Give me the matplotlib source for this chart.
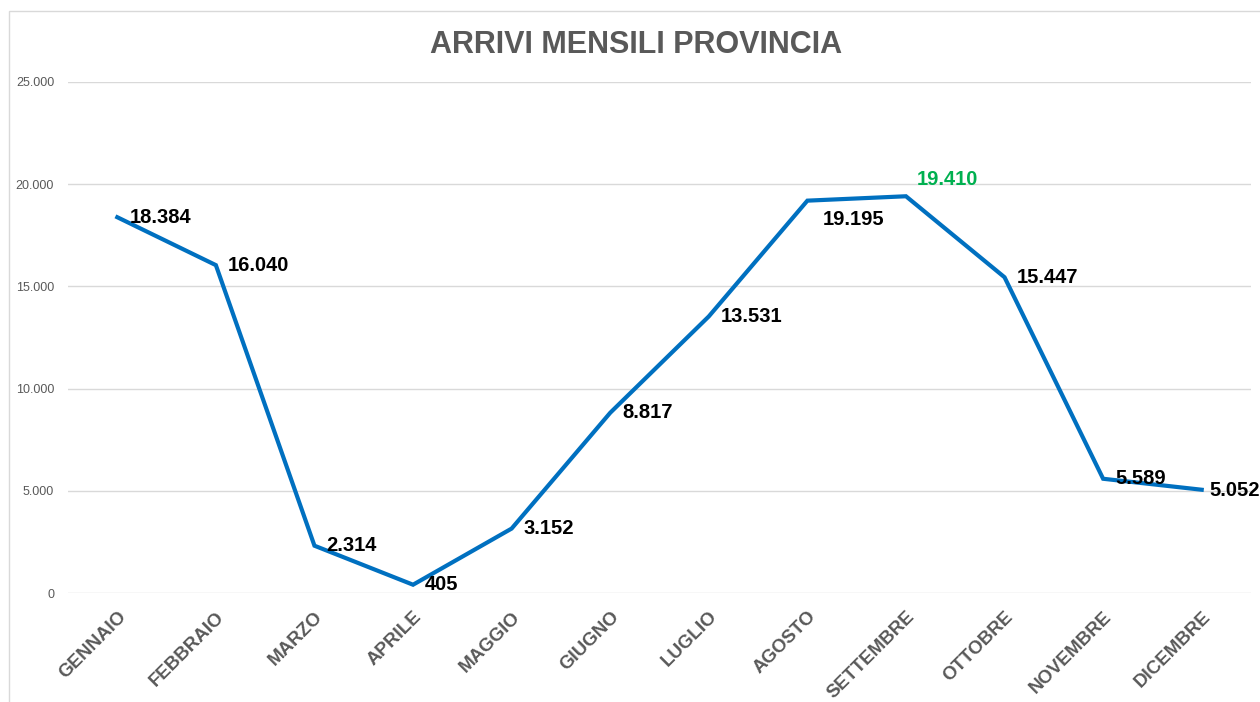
import matplotlib
matplotlib.use("Agg")
import matplotlib.pyplot as plt
from matplotlib import font_manager
from matplotlib.ticker import FuncFormatter, MultipleLocator
from matplotlib.patches import Rectangle

# data
mesi = ["GENNAIO", "FEBBRAIO", "MARZO", "APRILE", "MAGGIO", "GIUGNO",
        "LUGLIO", "AGOSTO", "SETTEMBRE", "OTTOBRE", "NOVEMBRE", "DICEMBRE"]
arrivi = [18384, 16040, 2314, 405, 3152, 8817, 13531, 19195, 19410, 15447, 5589, 5052]

# pick a narrow bold font if there is one
names = set(f.name for f in font_manager.fontManager.ttflist)
if "Liberation Sans Narrow" in names:
    narrow = "Liberation Sans Narrow"
    lab_size, tick_size, title_size = 17, 15, 27
else:
    narrow = "Liberation Sans"
    lab_size, tick_size, title_size = 14.5, 13.5, 22

def ita(v, pos=None):
    return "{:,.0f}".format(v).replace(",", ".")

fig = plt.figure(figsize=(12.6, 7.02), dpi=100)
ax = fig.add_axes([68/1260, (702-593)/702, (1251-68)/1260, (593-82)/702])

x = list(range(len(mesi)))
ax.plot(x, arrivi, color="#0070C0", lw=3, solid_joinstyle="miter", zorder=3)

ax.set_xlim(-0.5, len(mesi) - 0.5)
ax.set_ylim(0, 25000)
ax.yaxis.set_major_locator(MultipleLocator(5000))
ax.yaxis.set_major_formatter(FuncFormatter(ita))
ax.grid(axis="y", color="#D9D9D9", lw=1)
ax.set_axisbelow(True)
for s in ax.spines.values():
    s.set_visible(False)
ax.tick_params(axis="y", length=0, pad=10, labelsize=9, labelcolor="#595959")
ax.tick_params(axis="x", length=0, pad=11)
ax.set_xticks(x)
ax.set_xticklabels(mesi, rotation=45, ha="right", rotation_mode="anchor",
                   family=narrow, fontweight="bold", fontsize=tick_size, color="#595959")
for t in ax.get_yticklabels():
    t.set_family("Liberation Sans")

# data labels
special = {7: (15, -19), 8: (11, 17), 11: (8, -1)}
for i, v in enumerate(arrivi):
    dx, dy = special.get(i, (12, 0))
    col = "#00B050" if v == max(arrivi) else "black"
    ax.annotate(ita(v), (i, v), xytext=(dx, dy), textcoords="offset pixels",
                ha="left", va="center", fontsize=lab_size, fontweight="bold",
                family=narrow, color=col, zorder=4, annotation_clip=False)

fig.text(636/1260, 1 - 45/702, "ARRIVI MENSILI PROVINCIA", ha="center", va="center",
         fontsize=title_size, fontweight="bold", family=narrow, color="#595959")

# chart frame
fig.patches.append(Rectangle((9/1260, -0.05), 1.1, 1.05 - 11/702, transform=fig.transFigure,
                             fill=False, edgecolor="#D9D9D9", lw=1))

fig.savefig("out.png", dpi=100)
